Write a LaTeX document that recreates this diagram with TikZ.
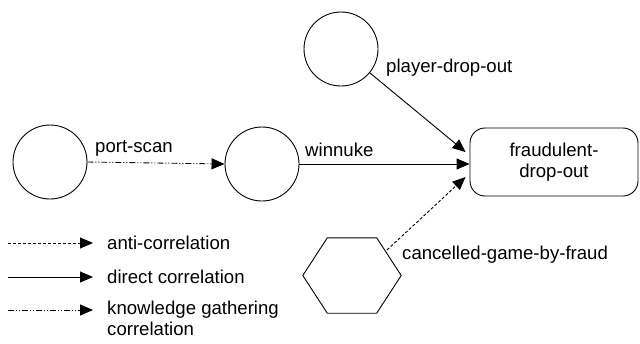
\documentclass[tikz,border=0pt]{standalone}
\usepackage{fontspec}
\setmainfont{Liberation Sans}
\usetikzlibrary{arrows.meta,calc}
\tikzset{
  state/.style={draw, circle, minimum size=74pt, inner sep=0pt, line width=0.9pt},
  target/.style={draw, rounded corners=15pt, minimum width=168pt, minimum height=68pt,
    align=center, line width=0.9pt},
  lbl/.style={anchor=west, inner sep=0pt},
  rel/.style={line width=0.9pt, -{Triangle[length=13pt,width=11pt]}},
  antirel/.style={rel, dash pattern=on 3pt off 2pt},
  knowrel/.style={rel, dash pattern=on 6pt off 2pt on 1pt off 2pt on 1pt off 2pt},
}
\begin{document}
\begin{tikzpicture}[x=1pt, y=-1pt, font=\fontsize{18.6}{21}\selectfont]
\useasboundingbox (0,0) rectangle (640,343);

% nodes
\node[state] (portscan) at (50,162) {};
\node[state] (winnuke) at (262,164) {};
\node[state] (player) at (341,49) {};
\node[target] (fraud) at (554,162) {fraudulent-\\drop-out};
\node[minimum width=98pt, minimum height=75pt, inner sep=0pt] (hex) at (352,275.5) {};
\draw[line width=0.9pt] (hex.west) -- ($(hex.north west)+(24.5,0)$) -- ($(hex.north east)+(-24.5,0)$)
  -- (hex.east) -- ($(hex.south east)+(-24.5,0)$) -- ($(hex.south west)+(24.5,0)$) -- cycle;

% entry points on the target box
\coordinate (inA) at ($(fraud.west)+(-4,-10)$);
\coordinate (inB) at ($(fraud.west)+(0,2)$);
\coordinate (inC) at ($(fraud.west)+(-4,15)$);
\coordinate (hexout) at (387,250);

% connectors
\draw[knowrel] (portscan.east) -- (winnuke.west);
\draw[rel] (winnuke.east) -- (inB);
\draw[rel] (player) -- (inA);
\draw[antirel] (hexout) -- (inC);

% connector labels
\node[lbl] (l1) at (95,148) {port-scan};
\node[lbl] (l2) at (305,150) {winnuke};
\node[lbl] (l3) at (386,68) {player-drop-out};
\node[lbl] (l4) at (402,255) {cancelled-game-by-fraud};

% legend
\coordinate (a0) at (8,243); \coordinate (a1) at (93,243);
\coordinate (b0) at (8,277); \coordinate (b1) at (93,277);
\coordinate (c0) at (8,310); \coordinate (c1) at (93,310);
\draw[antirel] (a0) -- (a1);
\draw[rel] (b0) -- (b1);
\draw[knowrel] (c0) -- (c1);
\node[lbl] (t1) at (107,243) {anti-correlation};
\node[lbl] (t2) at (107,277) {direct correlation};
\node[lbl, anchor=north west, align=left] (t3) at (107,301) {knowledge gathering\\correlation};
\end{tikzpicture}
\end{document}
